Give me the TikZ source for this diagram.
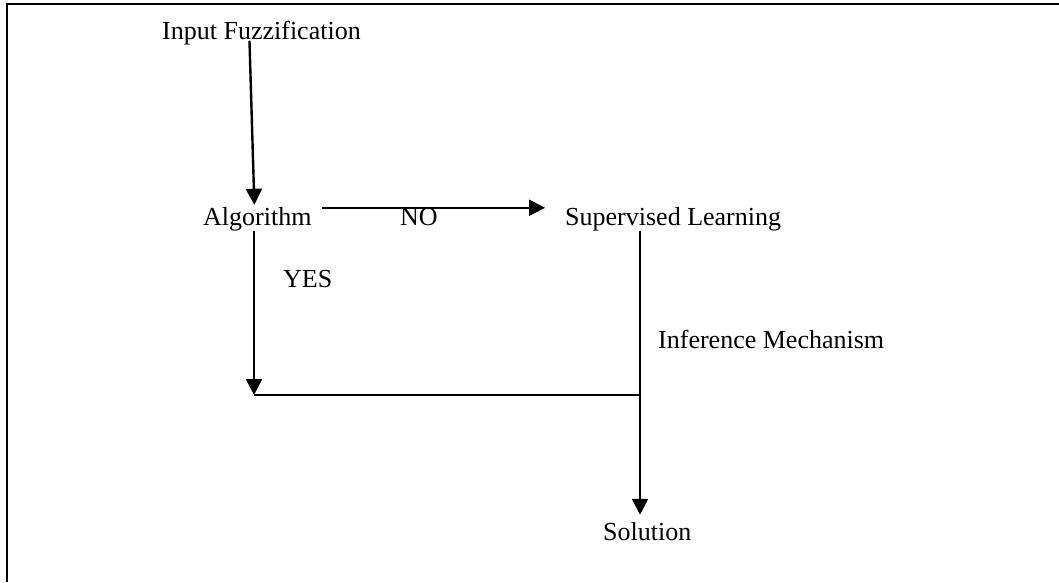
\documentclass[tikz,border=0pt]{standalone}
\usepackage{fontspec}
\setmainfont{Liberation Serif}
\usetikzlibrary{arrows.meta}

\begin{document}
\begin{tikzpicture}[x=1pt, y=-1pt,
  texto/.style={anchor=base west, inner sep=0pt, font=\fontsize{26}{30}\selectfont},
  flujo/.style={-{Triangle[length=16pt, width=16pt]}, line width=2.4pt},
  linea/.style={line width=2.4pt},
  marco/.style={line width=2.8pt}]
\useasboundingbox (0,0) rectangle (1059,582);
\draw[marco] (7,582) -- (7,4) -- (1059,4);
\node[texto] (fuzz) at (162,39) {Input Fuzzification};
\node[texto] (algo) at (203,225) {Algorithm};
\node[texto] (no) at (400,225) {NO};
\node[texto] (sup) at (565,225) {Supervised Learning};
\node[texto] (yes) at (283,287) {YES};
\node[texto] (inf) at (658,348) {Inference Mechanism};
\node[texto] (sol) at (603,540) {Solution};
\coordinate (turn) at (254,395);
\coordinate (join) at (640,395);
\draw[flujo] ([xshift=-12pt, yshift=4pt]fuzz.south) -- ([xshift=-3pt, yshift=2pt]algo.north);
\draw[flujo] ([xshift=10pt, yshift=11pt]algo.east) -- ([xshift=-20pt, yshift=11pt]sup.west);
\draw[flujo] (algo.south -| turn) -- (turn);
\draw[linea] (turn) -- (join);
\draw[linea] (join |- sup.south) -- (join);
\draw[flujo, shorten >=7pt] (join) -- (join |- sol.north);
\end{tikzpicture}
\end{document}
